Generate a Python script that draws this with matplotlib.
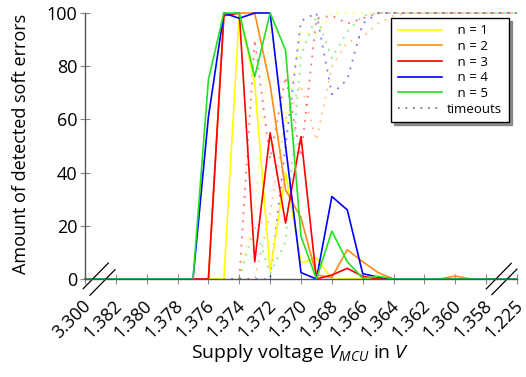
import matplotlib
matplotlib.use("Agg")
import matplotlib.pyplot as plt
from matplotlib.transforms import ScaledTranslation

plt.rcParams['font.family'] = ['Open Sans', 'DejaVu Sans']
plt.rcParams['mathtext.fontset'] = 'custom'
plt.rcParams['mathtext.it'] = 'Open Sans:italic'
plt.rcParams['mathtext.rm'] = 'Open Sans'

# supply voltages (V); the axis is broken after 3.300 and before 1.225
voltages = [3.300, 1.382, 1.381, 1.380, 1.379, 1.378, 1.377, 1.376, 1.375,
            1.374, 1.373, 1.372, 1.371, 1.370, 1.369, 1.368, 1.367, 1.366,
            1.365, 1.364, 1.363, 1.362, 1.361, 1.360, 1.359, 1.358, 1.225]
tick_volts = [3.300, 1.382, 1.380, 1.378, 1.376, 1.374, 1.372, 1.370,
              1.368, 1.366, 1.364, 1.362, 1.360, 1.358, 1.225]

# detected soft errors (%)
err_n1 = [0, 0, 0, 0, 0, 0, 0, 0, 0, 100, 73.5, 3, 40, 6, 8, 0, 0, 0,
          0, 0, 0, 0, 0, 0, 0, 0, 0]
err_n2 = [0, 0, 0, 0, 0, 0, 0, 0, 99, 100, 100, 73, 33.5, 23, 1.5, 0.6, 11, 6.5,
          2.4, 0, 0, 0, 0, 1.1, 0, 0, 0]
err_n3 = [0, 0, 0, 0, 0, 0, 0, 0, 99, 100, 6.5, 55, 21, 53.5, 0, 1.5, 4, 1,
          0, 0, 0, 0, 0, 0, 0, 0, 0]
err_n4 = [0, 0, 0, 0, 0, 0, 0, 61, 100, 98, 100, 100, 50, 2.4, 0, 31, 26, 2,
          0.7, 0, 0, 0, 0, 0, 0, 0, 0]
err_n5 = [0, 0, 0, 0, 0, 0, 0, 75, 100, 100, 76, 100, 86, 16, 0, 18, 6.5, 0.3,
          1, 0, 0, 0, 0, 0, 0, 0, 0]

# timeouts (%)
to_n1 = [0, 0, 0, 0, 0, 0, 0, 0, 0, 0, 26, 95, 58, 93, 92, 100, 100, 100,
         100, 100, 100, 100, 100, 100, 100, 100, 100]
to_n2 = [0, 0, 0, 0, 0, 0, 0, 0, 0, 0, 0, 25, 60, 73, 52, 80, 89, 91,
         96, 99, 100, 100, 100, 100, 100, 100, 100]
to_n3 = [0, 0, 0, 0, 0, 0, 0, 0, 0, 0, 90, 45, 76, 46, 98, 99, 96, 98,
         100, 100, 100, 100, 100, 100, 100, 100, 100]
to_n4 = [0, 0, 0, 0, 0, 0, 0, 0, 0, 0, 0, 0, 50, 97, 100, 69.5, 75, 96,
         100, 100, 100, 100, 100, 100, 100, 100, 100]
to_n5 = [0, 0, 0, 0, 0, 0, 0, 0, 0, 0, 20, 2, 14, 84, 99, 83, 93, 99,
         100, 100, 100, 100, 100, 100, 100, 100, 100]

labels = ['   n = 1', '   n = 2', '   n = 3', '   n = 4', '   n = 5']
colors = ['#ffff00', '#ff8c1a', '#ff0000', '#0000ff', '#22e022']


def vpos(v):
    # position on the broken axis, one unit per tick
    if v > 2:
        return 0.0
    if v < 1.3:
        return 14.0
    return 1 + (1.382 - v) / 0.002


xs = [vpos(v) for v in voltages]

fig = plt.figure(figsize=(5.26, 3.77), dpi=100)
ax = fig.add_axes([85 / 526, 98 / 377, 432 / 526, 266 / 377])

errs = [err_n1, err_n2, err_n3, err_n4, err_n5]
tos = [to_n1, to_n2, to_n3, to_n4, to_n5]
for t, c in zip(tos, colors):
    ax.plot(xs, t, color=c, ls=(0, (1, 3.5)), lw=1.3, alpha=0.55, clip_on=False)
for e, c, lab in zip(errs, colors, labels):
    ax.plot(xs, e, color=c, lw=1.2, label=lab, clip_on=False)
ax.plot([], [], color='#666666', ls=(0, (1, 3.5)), lw=1.2, label='timeouts')

ax.set_xlim(0, 14)
ax.set_ylim(0, 100)
ax.set_xticks([vpos(v) for v in tick_volts])
ax.set_xticklabels(['%.3f' % v for v in tick_volts], rotation=45,
                   ha='right', va='center', rotation_mode='anchor',
                   fontsize=12)
ax.set_yticks([0, 20, 40, 60, 80, 100])
ax.tick_params(direction='inout', length=7, width=0.8, color='#888888',
               labelsize=13, pad=2)
ax.tick_params(axis='x', pad=0)
shift = ScaledTranslation(0.03, -0.19, fig.dpi_scale_trans)
for lbl in ax.get_xticklabels():
    lbl.set_transform(lbl.get_transform() + shift)
for s in ['top', 'right']:
    ax.spines[s].set_visible(False)
for s in ['left', 'bottom']:
    ax.spines[s].set_color('#555555')
    ax.spines[s].set_linewidth(1.0)

# axis break marks
for xb, yb in [(0.35, 1.2), (0.567, -1.3), (13.41, 1.1), (13.59, -1.1)]:
    ax.plot([xb - 0.405, xb + 0.405], [yb - 4.8, yb + 4.8], color='black',
            lw=0.9, clip_on=False)

ax.set_xlabel(r'Supply voltage $V_{MCU}$ in $V$', fontsize=14)
ax.xaxis.set_label_coords(0.498, -0.235)
ax.set_ylabel('Amount of detected soft errors', fontsize=13)
ax.yaxis.set_label_coords(-0.127, 0.509)

leg = ax.legend(loc='upper right', bbox_to_anchor=(0.981, 0.982), fontsize=9.5,
                fancybox=False, shadow={'color': '#777777', 'alpha': 0.8},
                edgecolor='black', framealpha=1,
                handlelength=3.4, handletextpad=0.35, borderpad=0.5,
                labelspacing=0.2, borderaxespad=0)
leg.get_frame().set_linewidth(1.0)

fig.savefig('out.png', dpi=100)
